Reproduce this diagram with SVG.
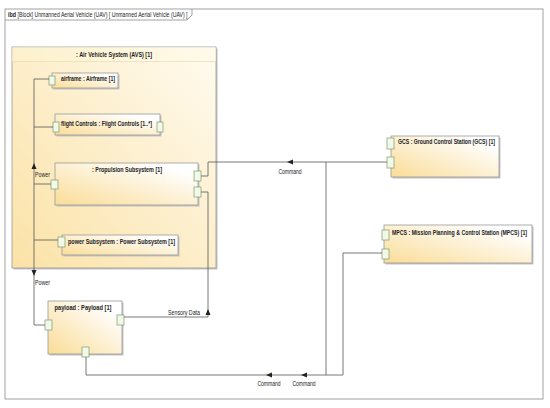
<svg xmlns="http://www.w3.org/2000/svg" width="550" height="408" viewBox="0 0 550 408">
<defs>
<linearGradient id="gn" x1="0" y1="1" x2="1" y2="0">
<stop offset="0" stop-color="#fadc96"/>
<stop offset="0.85" stop-color="#ffffff"/>
</linearGradient>
<linearGradient id="gb" x1="0" y1="1" x2="1" y2="0">
<stop offset="0" stop-color="#fbe2a6"/>
<stop offset="1" stop-color="#fffbf0"/>
</linearGradient>
<linearGradient id="gh" x1="0" y1="0" x2="1" y2="0">
<stop offset="0" stop-color="#fdf1cc"/>
<stop offset="1" stop-color="#fffaeb"/>
</linearGradient>
</defs>
<style>
text{font-family:"Liberation Sans",Arial,sans-serif;fill:#222}
.t{font-size:6.8px;font-weight:bold}
.l{font-size:6.5px}
.box{stroke:#9a9a9a;stroke-width:0.8}
.sh{fill:#c4c4c4}
.port{fill:#f2f9e8;stroke:#7d9a6c;stroke-width:0.7}
.c{fill:none;stroke:#555;stroke-width:0.8}
.ar{fill:#222}
</style>
<rect width="550" height="408" fill="#ffffff"/>
<g id="frame">
<rect x="5" y="9" width="538" height="390" fill="none" stroke="#8a8a8a" stroke-width="0.8"/>
<path d="M5,20 H187 L192,15 V9" fill="none" stroke="#8a8a8a" stroke-width="0.8"/>
<text x="8" y="17" class="l" font-weight="bold" textLength="8" lengthAdjust="spacingAndGlyphs">ibd</text>
<text x="17.5" y="17" class="l" textLength="170" lengthAdjust="spacingAndGlyphs">[Block] Unmanned Aerial Vehicle (UAV) [ Unmanned Aerial Vehicle (UAV) ]</text>
</g>
<g id="avs">
<rect x="13.5" y="48.5" width="204" height="221" class="sh"/>
<rect x="12" y="47" width="204" height="221" fill="url(#gb)" class="box"/>
<rect x="12.4" y="47.4" width="203.2" height="14" fill="url(#gh)"/>
<line x1="12" y1="61.5" x2="216" y2="61.5" stroke="#e6d6a8" stroke-width="0.6"/>
<text x="114" y="57" class="t" text-anchor="middle" textLength="76" lengthAdjust="spacingAndGlyphs">: Air Vehicle System (AVS) [1]</text>
</g>
<g id="airframe">
<rect x="53.5" y="74.5" width="66" height="15" class="sh"/>
<rect x="52" y="73" width="66" height="15" fill="url(#gn)" class="box"/>
<rect x="49" y="76" width="6" height="9" class="port"/>
<text x="61" y="80.5" class="t" textLength="54" lengthAdjust="spacingAndGlyphs">airframe : Airframe [1]</text>
</g>
<g id="flightControls">
<rect x="56.5" y="115.5" width="105" height="21" class="sh"/>
<rect x="55" y="114" width="105" height="21" fill="url(#gn)" class="box"/>
<rect x="53" y="122" width="6" height="10" class="port"/>
<rect x="157" y="122" width="6" height="10" class="port"/>
<text x="61" y="125.5" class="t" textLength="91" lengthAdjust="spacingAndGlyphs">flight Controls : Flight Controls [1..*]</text>
</g>
<g id="propulsion">
<rect x="56.5" y="164.5" width="143" height="42" class="sh"/>
<rect x="55" y="163" width="143" height="42" fill="url(#gn)" class="box"/>
<rect x="51" y="180" width="7" height="9" class="port"/>
<rect x="194" y="171" width="7" height="10" class="port"/>
<rect x="194" y="187" width="7" height="10" class="port"/>
<text x="127" y="171.5" class="t" text-anchor="middle" textLength="70" lengthAdjust="spacingAndGlyphs">: Propulsion Subsystem [1]</text>
</g>
<g id="powerSubsystem">
<rect x="63.5" y="236.5" width="116" height="20" class="sh"/>
<rect x="62" y="235" width="116" height="20" fill="url(#gn)" class="box"/>
<rect x="58" y="237" width="7" height="10" class="port"/>
<text x="68" y="243.5" class="t" textLength="107" lengthAdjust="spacingAndGlyphs">power Subsystem : Power Subsystem [1]</text>
</g>
<g id="payload">
<rect x="49.5" y="302.5" width="74" height="53" class="sh"/>
<rect x="48" y="301" width="74" height="53" fill="url(#gn)" class="box"/>
<rect x="45" y="320" width="7" height="10" class="port"/>
<rect x="117" y="315" width="7" height="10" class="port"/>
<rect x="82" y="347" width="7" height="10" class="port"/>
<text x="83" y="309.5" class="t" text-anchor="middle" textLength="57" lengthAdjust="spacingAndGlyphs">payload : Payload [1]</text>
</g>
<g id="gcs">
<rect x="392.5" y="137.5" width="108" height="41" class="sh"/>
<rect x="391" y="136" width="108" height="41" fill="url(#gn)" class="box"/>
<rect x="387" y="138" width="7" height="11" class="port"/>
<rect x="387" y="157" width="7" height="11" class="port"/>
<text x="398" y="144" class="t" textLength="97" lengthAdjust="spacingAndGlyphs">GCS : Ground Control Station (GCS) [1]</text>
</g>
<g id="mpcs">
<rect x="385.5" y="226.5" width="148" height="38" class="sh"/>
<rect x="384" y="225" width="148" height="38" fill="url(#gn)" class="box"/>
<rect x="382" y="230" width="7" height="10" class="port"/>
<rect x="382" y="249" width="7" height="10" class="port"/>
<text transform="translate(392,235) scale(0.7,1)" x="0" y="0" class="t" textLength="193" lengthAdjust="spacingAndGlyphs">MPCS : Mission Planning &amp; Control Station (MPCS) [1]</text>
</g>
<g id="connectors">
<path class="c" d="M49,79 H34 V325 H45"/>
<path class="c" d="M53,127 H34"/>
<path class="c" d="M51,184 H34"/>
<path class="c" d="M58,240 H34"/>
<path class="c" d="M201,176 H208 V162 H387"/>
<path class="c" d="M201,192 H208 V317 H124"/>
<path class="c" d="M326,162 V375"/>
<path class="c" d="M86,357 V375 H343 V253 H382"/>
<path class="ar" d="M34,163 L31.5,169 H36.5 z"/>
<path class="ar" d="M34,276 L31.5,270 H36.5 z"/>
<path class="ar" d="M287,162 L293,159.5 V164.5 z"/>
<path class="ar" d="M208,309 L205.5,315 H210.5 z"/>
<path class="ar" d="M266,375 L272,372.5 V377.5 z"/>
<path class="ar" d="M301,375 L307,372.5 V377.5 z"/>
<text x="35" y="177" class="l" textLength="15" lengthAdjust="spacingAndGlyphs">Power</text>
<text x="35" y="285" class="l" textLength="15" lengthAdjust="spacingAndGlyphs">Power</text>
<text x="168" y="315" class="l" textLength="32" lengthAdjust="spacingAndGlyphs">Sensory Data</text>
<text x="290" y="174" class="l" text-anchor="middle" textLength="23" lengthAdjust="spacingAndGlyphs">Command</text>
<text x="269" y="386" class="l" text-anchor="middle" textLength="23" lengthAdjust="spacingAndGlyphs">Command</text>
<text x="304" y="386" class="l" text-anchor="middle" textLength="23" lengthAdjust="spacingAndGlyphs">Command</text>
</g>
</svg>
